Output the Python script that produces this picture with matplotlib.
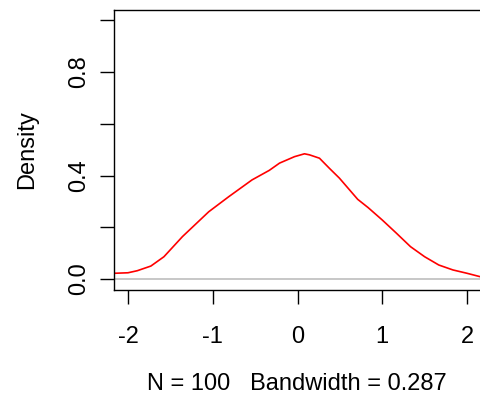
import matplotlib
matplotlib.use("Agg")
import matplotlib.pyplot as plt

plt.rcParams['font.family'] = ['Liberation Sans', 'DejaVu Sans']

# density curve
x = [-2.165, -2.0, -1.89, -1.73, -1.576, -1.357, -1.047, -0.812, -0.537,
     -0.333, -0.212, -0.035, 0.082, 0.141, 0.259, 0.376, 0.494, 0.71, 0.833,
     1.0, 1.167, 1.333, 1.5, 1.667, 1.833, 2.0, 2.153]
dens = [0.022, 0.024, 0.032, 0.050, 0.086, 0.164, 0.260, 0.318, 0.383,
        0.420, 0.448, 0.473, 0.484, 0.480, 0.467, 0.428, 0.390, 0.308, 0.276,
        0.228, 0.177, 0.125, 0.086, 0.054, 0.035, 0.022, 0.009]

xticks = [-2, -1, 0, 1, 2]
yticks = [0.0, 0.2, 0.4, 0.6, 0.8, 1.0]
ylabels = ['0.0', '', '0.4', '', '0.8', '']

fig = plt.figure(figsize=(4.8, 4.04), dpi=100)
ax = fig.add_axes([114/480, 114/404, 1 - 114/480, 280/404])

ax.axhline(0, color='#BEBEBE', lw=1.2)
ax.plot(x, dens, color='red', lw=1.2)

ax.set_xlim(-2.165, 2.153)
ax.set_ylim(-0.0426, 1.04)
ax.spines['right'].set_visible(False)
for s in ['left', 'top', 'bottom']:
    ax.spines[s].set_linewidth(1.0)

ax.set_xticks(xticks)
ax.set_xticklabels([str(t) for t in xticks])
ax.set_yticks(yticks)
ax.set_yticklabels(ylabels, rotation=90, va='center')
ax.tick_params(direction='out', length=10, width=1.0, labelsize=17)
ax.tick_params(axis='x', pad=16)
ax.tick_params(axis='y', pad=7)

ax.set_xlabel('N = 100   Bandwidth = 0.287', fontsize=17, labelpad=18)
ax.set_ylabel('Density', fontsize=17, labelpad=22)

fig.savefig('out.png', dpi=100)
